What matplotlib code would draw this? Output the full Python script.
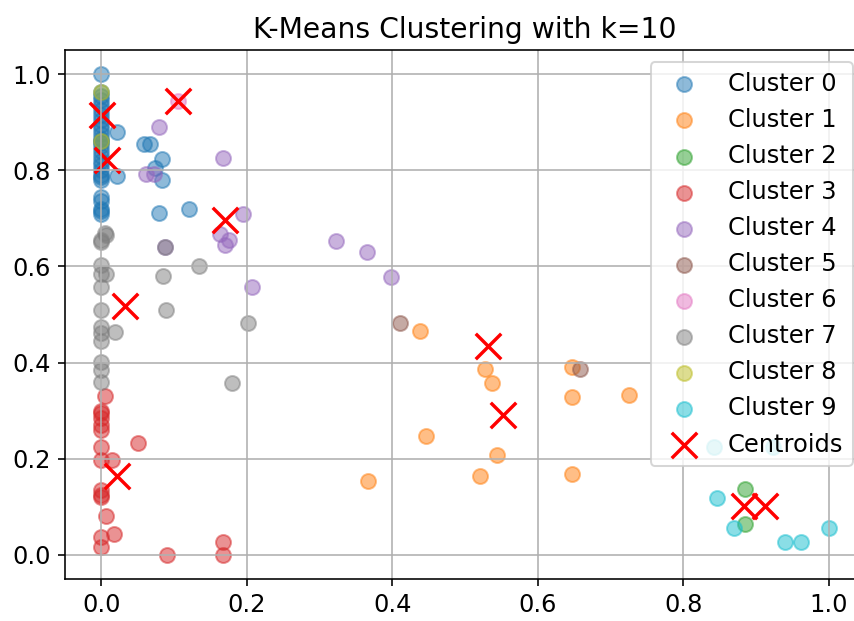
import matplotlib
matplotlib.use("Agg")
import matplotlib.pyplot as plt
import numpy as np

# ---- data ----
c0_x = [0, 0, 0, 0, 0, 0, 0, 0, 0, 0, 0, 0, 0, 0, 0, 0, 0, 0, 0, 0, 0, 0, 0, 0, 0, 0, 0, 0,
        0.022, 0.058, 0.067, 0.083, 0.022, 0.074, 0.083, 0.079, 0.121]
c0_y = [1.0, 0.963, 0.955, 0.945, 0.935, 0.925, 0.915, 0.905, 0.895, 0.885, 0.875, 0.865,
        0.861, 0.85, 0.84, 0.83, 0.82, 0.81, 0.80, 0.79, 0.785, 0.78, 0.745, 0.735, 0.72,
        0.715, 0.71, 0.858,
        0.88, 0.854, 0.854, 0.823, 0.788, 0.804, 0.78, 0.712, 0.719]

c1_x = [0.438, 0.527, 0.537, 0.647, 0.647, 0.726, 0.447, 0.544, 0.521, 0.647, 0.367]
c1_y = [0.466, 0.386, 0.358, 0.390, 0.329, 0.333, 0.247, 0.208, 0.165, 0.168, 0.154]

c2_x = [0.885, 0.885]
c2_y = [0.137, 0.064]

c3_x = [0.005, 0, 0, 0, 0, 0, 0, 0, 0.015, 0.05, 0, 0, 0, 0.006, 0, 0.018, 0, 0.09, 0.167, 0.167]
c3_y = [0.331, 0.30, 0.295, 0.285, 0.27, 0.26, 0.225, 0.197, 0.197, 0.233, 0.135, 0.125,
        0.121, 0.081, 0.038, 0.043, 0.017, 0.0, 0.026, 0.0]

c4_x = [0.079, 0.167, 0.062, 0.072, 0.195, 0.163, 0.170, 0.175, 0.088, 0.207, 0.322, 0.365, 0.398]
c4_y = [0.889, 0.826, 0.792, 0.792, 0.710, 0.668, 0.645, 0.655, 0.641, 0.558, 0.653, 0.629, 0.579]

c5_x = [0.410, 0.658]
c5_y = [0.483, 0.386]

c6_x = [0.105]
c6_y = [0.944]

c7_x = [0, 0.005, 0, 0.006, 0, 0, 0.006, 0, 0, 0, 0, 0.019, 0, 0, 0, 0,
        0.085, 0.134, 0.089, 0.202, 0.179, 0.088]
c7_y = [0.651, 0.669, 0.655, 0.665, 0.603, 0.585, 0.585, 0.558, 0.509, 0.475, 0.461, 0.464,
        0.444, 0.402, 0.385, 0.36, 0.58, 0.601, 0.509, 0.483, 0.357, 0.641]

c8_x = [0, 0]
c8_y = [0.963, 0.861]

c9_x = [0.842, 0.924, 0.847, 0.870, 0.940, 0.962, 1.0]
c9_y = [0.225, 0.225, 0.119, 0.057, 0.026, 0.026, 0.057]

cent_x = [0.008, 0.552, 0.884, 0.022, 0.170, 0.532, 0.105, 0.032, 0.001, 0.912]
cent_y = [0.821, 0.291, 0.102, 0.164, 0.696, 0.435, 0.944, 0.518, 0.915, 0.102]

clusters = [(c0_x, c0_y), (c1_x, c1_y), (c2_x, c2_y), (c3_x, c3_y), (c4_x, c4_y),
            (c5_x, c5_y), (c6_x, c6_y), (c7_x, c7_y), (c8_x, c8_y), (c9_x, c9_y)]
labels = [f"Cluster {i}" for i in range(10)]

# ---- figure ----
plt.rcParams["font.size"] = 12
dpi = 145
fig = plt.figure(figsize=(855 / dpi, 621 / dpi), dpi=dpi)
W, H = 855, 621
ax = fig.add_axes([65 / W, (H - 579) / H, (865 - 65) / W, (579 - 50) / H])

for i, (xs, ys) in enumerate(clusters):
    ax.scatter(xs, ys, s=55, alpha=0.5, color=f"C{i}", label=labels[i])
ax.scatter(cent_x, cent_y, s=160, marker="x", color="red", linewidths=1.7, label="Centroids")

ax.set_xlim(-0.05, 1.05)
ax.set_ylim(-0.05, 1.05)
ax.set_title("K-Means Clustering with k=10", fontsize=14)
ax.grid(True)
ax.legend(loc="upper right")

fig.savefig("out.png", dpi=dpi)
